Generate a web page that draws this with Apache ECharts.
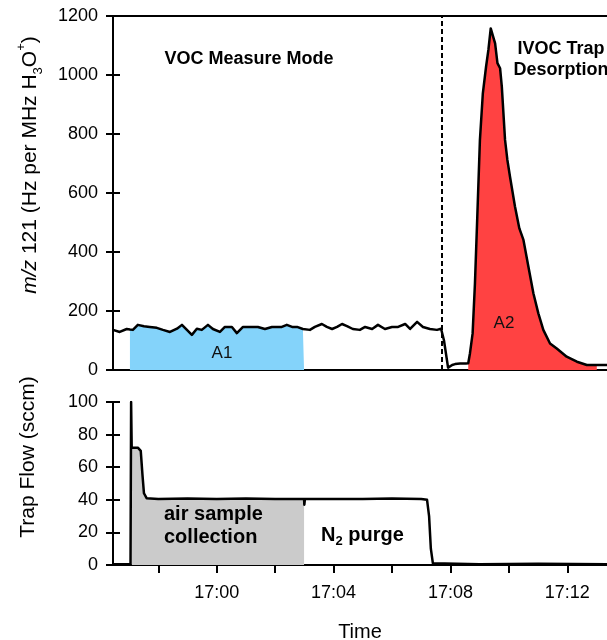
<!DOCTYPE html>
<html><head><meta charset="utf-8">
<script src="https://cdn.jsdelivr.net/npm/echarts@6/dist/echarts.min.js"></script>
<style>html,body{margin:0;padding:0;background:#fff}#c{width:607px;height:640px}</style>
</head><body><div id="c"></div>
<script>
// time in minutes relative to 17:00
const topTime = [
  -3.55,-3.32,-3.08,-2.97,-2.87,-2.70,-2.49,-2.29,-2.05,-1.84,
  -1.60,-1.36,-1.19,-1.02,-0.85,-0.68,-0.51,-0.30,-0.13,0.11,
  0.28,0.52,0.69,0.90,1.14,1.41,1.65,1.89,2.23,2.40,
  2.58,2.75,2.95,2.99,3.19,3.36,3.60,3.77,3.95,4.12,
  4.29,4.46,4.66,4.90,5.08,5.32,5.52,5.76,6.00,6.21,
  6.45,6.62,6.86,7.06,7.30,7.54,7.68,7.78,7.92,8.06,
  8.16,8.33,8.53,
  8.61,8.67,8.76,8.84,8.92,9.01,9.11,9.22,9.30,9.38,
  9.53,9.61,9.70,9.76,9.87,9.95,10.04,10.21,10.36,10.50,
  10.67,10.84,11.01,11.18,11.41,11.64,11.98,12.33,12.67,13.01,13.36
];
const topSignal = [
  136,129,139,137,136,153,148,146,143,136,
  129,140,153,136,119,140,136,153,139,129,
  146,146,125,146,146,146,139,146,146,153,
  146,146,139,139,136,146,156,146,139,146,
  156,149,139,136,146,139,153,139,146,146,
  156,139,163,146,139,136,140,100,8,17,
  20,22,22,
  23,57,124,294,520,780,938,1028,1085,1158,
  1107,1040,1023,960,780,712,655,554,480,441,
  350,260,192,136,90,73,45,28,17,17,17
];
const flowTime = [-3.55,-2.95,-2.93,-2.91,-2.70,-2.60,-2.54,-2.49,-2.40,-2.0,-1.0,0.0,1.0,2.0,2.99,3.00,3.02,4.0,5.0,6.0,7.0,7.20,7.27,7.33,7.40,7.45,9.0,11.0,13.36];
const flowValue = [0.5,0.5,100,72,72,70,55,44,41,40.5,40.8,40.5,40.8,40.5,40.5,37,40.5,40.5,40.5,40.8,40.5,40,30,10,1,0.5,0.5,0.8,0.5];

const a1Range = [-2.97, 2.99];
const a2Range = [8.61, 13.01];
const airRange = [-2.93, 2.99];
const switchTime = 7.71;
const timeMin = -3.55, timeMax = 13.36;
const timeTickValues = [-2,0,2,4,6,8,10,12];
const timeLabelValues = [0,4,8,12];

const FONT = '"Liberation Sans", Arial, sans-serif';
const zip = (ts, vs) => ts.map((t,i)=>[t, vs[i]]);
const topData = zip(topTime, topSignal);
const flowData = zip(flowTime, flowValue);
const inRange = (d, r) => d.filter(p => p[0] >= r[0]-1e-9 && p[0] <= r[1]+1e-9);

const fmtTime = v => { const tot = 17*60 + Math.round(v); return Math.floor(tot/60) + ':' + String(tot%60).padStart(2,'0'); };

const axisLineS = {lineStyle:{color:'#000', width:2}, onZero:false};
const tickS = {lineStyle:{color:'#000', width:2}};

function yPair(grid, max, interval, margin) {
  return [
    {type:'value', gridIndex:grid, min:0, max:max, interval:interval, position:'left',
     axisLine:axisLineS, axisTick:{show:true, length:7, inside:false, ...tickS},
     axisLabel:{fontSize:18, color:'#000', margin:margin, fontFamily:FONT, formatter:v => String(v)},
     splitLine:{show:false}},
    {type:'value', gridIndex:grid, min:0, max:max, interval:interval, position:'right', offset:-494,
     axisLine:{show:false, onZero:false}, axisTick:{show:true, length:7, ...tickS},
     axisLabel:{show:false}, splitLine:{show:false}}
  ];
}

const chart = echarts.init(document.getElementById('c'), null, {renderer:'canvas'});
chart.setOption({
  animation:false,
  backgroundColor:'#fff',
  textStyle:{fontFamily:FONT},
  grid:[
    {left:113, top:16, right:0, height:354, outerBoundsMode:'none'},
    {left:113, top:402, right:0, height:163, outerBoundsMode:'none'}
  ],
  xAxis:[
    {type:'value', gridIndex:0, min:timeMin, max:timeMax, position:'bottom',
     axisLine:axisLineS, axisTick:{show:false}, axisLabel:{show:false}, splitLine:{show:false}},
    {type:'value', gridIndex:0, min:timeMin, max:timeMax, position:'top',
     axisLine:axisLineS, axisTick:{show:false}, axisLabel:{show:false}, splitLine:{show:false}},
    {type:'value', gridIndex:1, min:timeMin, max:timeMax, position:'bottom',
     axisLine:axisLineS,
     axisTick:{show:true, length:8, customValues:timeTickValues, ...tickS},
     axisLabel:{customValues:timeLabelValues, formatter:fmtTime, fontSize:18, color:'#000', margin:19, fontFamily:FONT},
     splitLine:{show:false},
     name:'Time', nameLocation:'middle', nameGap:57,
     nameTextStyle:{fontSize:20, color:'#000', fontFamily:FONT}}
  ],
  yAxis:[...yPair(0,1200,200,15), ...yPair(1,100,20,15)],
  series:[
    {type:'line', xAxisIndex:0, yAxisIndex:0, data:inRange(topData,a1Range), symbol:'none', silent:true,
     lineStyle:{width:0, opacity:0}, areaStyle:{color:'#84d3fa', opacity:1}, z:1},
    {type:'line', xAxisIndex:0, yAxisIndex:0, data:inRange(topData,a2Range), symbol:'none', silent:true,
     lineStyle:{width:0, opacity:0}, areaStyle:{color:'#ff4242', opacity:1}, z:1},
    {type:'line', xAxisIndex:0, yAxisIndex:0, data:topData, symbol:'none', silent:true,
     lineStyle:{color:'#000', width:2.5, join:'round'}, z:3,
     markLine:{symbol:['none','none'], silent:true, label:{show:false},
       lineStyle:{color:'#000', width:2, type:[5,3]}, data:[{xAxis:switchTime}]}},
    {type:'line', xAxisIndex:2, yAxisIndex:2, data:inRange(flowData,airRange), symbol:'none', silent:true,
     lineStyle:{width:0, opacity:0}, areaStyle:{color:'#cbcbcb', opacity:1}, z:1},
    {type:'line', xAxisIndex:2, yAxisIndex:2, data:flowData, symbol:'none', silent:true,
     lineStyle:{color:'#000', width:2.5, join:'round'}, z:3}
  ],
  graphic:[
    {type:'text', x:249, y:59, z:10, style:{text:'VOC Measure Mode', fill:'#000', fontSize:18, fontWeight:'bold', fontFamily:FONT,
      align:'center', verticalAlign:'middle', textAlign:'center', textVerticalAlign:'middle'}},
    {type:'text', x:561, y:60, z:10, style:{text:'IVOC Trap\nDesorption', fill:'#000', fontSize:18, fontWeight:'bold', fontFamily:FONT, lineHeight:21,
      align:'center', verticalAlign:'middle', textAlign:'center', textVerticalAlign:'middle'}},
    {type:'text', x:222, y:353, z:10, style:{text:'A1', fill:'#111', fontSize:17, fontFamily:FONT,
      align:'center', verticalAlign:'middle', textAlign:'center', textVerticalAlign:'middle'}},
    {type:'text', x:504, y:323, z:10, style:{text:'A2', fill:'#111', fontSize:17, fontFamily:FONT,
      align:'center', verticalAlign:'middle', textAlign:'center', textVerticalAlign:'middle'}},
    {type:'text', x:164, y:526, z:10, style:{text:'air sample\ncollection', fill:'#000', fontSize:20, fontWeight:'bold', fontFamily:FONT, lineHeight:23,
      align:'left', verticalAlign:'middle', textAlign:'left', textVerticalAlign:'middle'}},
    {type:'text', x:321, y:535, z:10, style:{text:'{b|N}{s|2}{b| purge}', fill:'#000', fontSize:20, fontWeight:'bold', fontFamily:FONT, lineHeight:26,
      align:'left', verticalAlign:'middle', textAlign:'left', textVerticalAlign:'middle',
      rich:{b:{fontSize:20, fontWeight:'bold', fontFamily:FONT, fill:'#000', lineHeight:26},
            s:{fontSize:13, fontWeight:'bold', fontFamily:FONT, fill:'#000', verticalAlign:'bottom'}}}},
    {type:'text', x:30, y:165, rotation:Math.PI/2, z:10, style:{text:'{i|m/z} 121 (Hz per MHz H{s|3}O{p|+})', fill:'#000', fontSize:21, fontFamily:FONT, lineHeight:30,
      align:'center', verticalAlign:'middle', textAlign:'center', textVerticalAlign:'middle',
      rich:{i:{fontStyle:'italic', fontSize:21, fontFamily:FONT, fill:'#000', lineHeight:30},
            s:{fontSize:13, fontFamily:FONT, fill:'#000', verticalAlign:'bottom'},
            p:{fontSize:13, fontFamily:FONT, fill:'#000', verticalAlign:'top'}}}},
    {type:'text', x:28, y:457, rotation:Math.PI/2, z:10, style:{text:'Trap Flow (sccm)', fill:'#000', fontSize:21, fontFamily:FONT,
      align:'center', verticalAlign:'middle', textAlign:'center', textVerticalAlign:'middle'}}
  ]
});
</script>
</body></html>
